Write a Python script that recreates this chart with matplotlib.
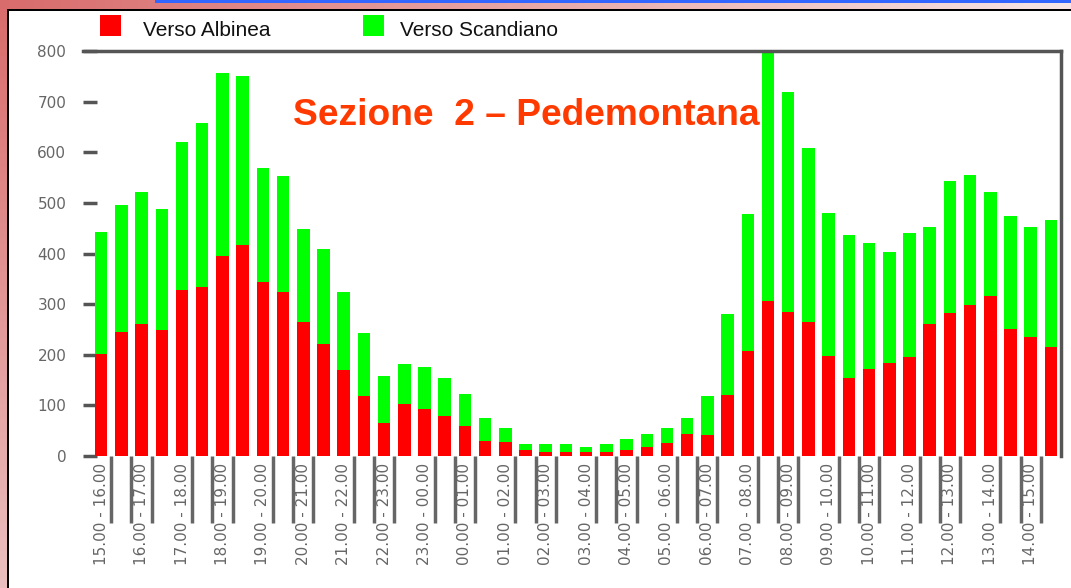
import numpy as np
import matplotlib
matplotlib.use("Agg")
import matplotlib.pyplot as plt
from matplotlib.patches import Rectangle
import matplotlib.transforms as mtransforms

# dati: passaggi per mezz'ora, dalle 15.00 alle 14.30 del giorno dopo
albinea = [201, 244, 260, 249, 327, 333, 396, 417, 343, 323, 264, 222, 170, 119, 66, 103,
           93, 79, 59, 30, 28, 12, 8, 8, 8, 8, 12, 18, 26, 44, 42, 121,
           207, 307, 285, 264, 197, 154, 171, 184, 195, 261, 282, 299, 317, 251, 235, 215]
scandiano = [242, 252, 262, 239, 293, 324, 360, 333, 226, 230, 185, 187, 153, 123, 93, 78,
             82, 75, 63, 45, 27, 12, 16, 16, 10, 16, 21, 25, 29, 31, 76, 159,
             271, 493, 435, 345, 283, 283, 249, 218, 246, 192, 261, 257, 205, 223, 218, 252]
ore = [15, 16, 17, 18, 19, 20, 21, 22, 23, 0, 1, 2, 3, 4, 5, 6, 7, 8, 9, 10, 11, 12, 13, 14]
etichette_x = ["%02d.00 - %02d.00" % (h, (h + 1) % 24) for h in ore]
valori_y = [0, 100, 200, 300, 400, 500, 600, 700, 800]
serie = ["Verso Albinea", "Verso Scandiano"]
colori = ["#ff0000", "#00ff00"]

W, H = 1071, 588
fig = plt.figure(figsize=(W / 100, H / 100), dpi=100, facecolor="white")

# cornice esterna (striscia rosata a sinistra e in alto)
sfondo = np.ones((H, W, 3))
t = np.linspace(0, 1, H)[:, None]
sfondo[:, :7, 0] = 0.85 + 0.07 * t
sfondo[:, :7, 1] = 0.42 + 0.33 * t
sfondo[:, :7, 2] = 0.42 + 0.33 * t
s = np.linspace(0, 1, W)[None, :]
sfondo[:9, :, 0] = 0.85 + 0.12 * s
sfondo[:9, :, 1] = 0.42 + 0.48 * s
sfondo[:9, :, 2] = 0.42 + 0.48 * s
sfondo[:3, 155:, :] = [0.2, 0.4, 1.0]
sfondo[9:11, 7:, :] = 0.0
sfondo[9:, 7:9, :] = 0.0
fig.figimage(sfondo, xo=0, yo=0, origin="upper", zorder=-5)

ax = fig.add_axes([83 / W, 1 - 456 / H, (1061 - 83) / W, (456 - 51) / H])
ax.set_zorder(3)
ax.set_facecolor("white")

x = np.arange(len(albinea))
ax.bar(x, albinea, width=0.62, color=colori[0], zorder=2)
ax.bar(x, scandiano, width=0.62, bottom=albinea, color=colori[1], zorder=2)

ax.set_xlim(-0.9, len(albinea) - 0.5)
ax.set_ylim(0, 800)

ax.set_yticks(valori_y)
ax.set_yticklabels([str(v) for v in valori_y], fontsize=11, color="#666666")
ax.tick_params(axis="y", direction="in", length=10, width=2.5, color="#555555", pad=12)

ax.set_xticks(x[::2])
ax.set_xticklabels(etichette_x, rotation=90, fontsize=11, color="#666666")
ax.tick_params(axis="x", length=0, pad=5)

for lato in ["left", "bottom"]:
    ax.spines[lato].set_visible(False)
for lato in ["top", "right"]:
    ax.spines[lato].set_color("#555555")
    ax.spines[lato].set_linewidth(2.5)

# separatori sotto l'asse x
trasf = mtransforms.blended_transform_factory(ax.transData, ax.transAxes)
separatori = sorted(set(list(np.arange(0.5, len(albinea), 2)) + list(np.arange(1.5, len(albinea), 4))))
for xs in separatori:
    ax.plot([xs, xs], [0, -0.165], transform=trasf, color="#666666", lw=2.5,
            clip_on=False, solid_capstyle="butt")

ax.text(0.453, 0.84, "Sezione  2 \u2013 Pedemontana", transform=ax.transAxes,
        ha="center", va="center", fontsize=26.7, fontweight="bold",
        color="#ff3a00", family="Liberation Sans", zorder=3)

# legenda in alto
pos_leg = [(100, 143), (363, 400)]
for nome, col, (xq, xt) in zip(serie, colori, pos_leg):
    fig.add_artist(Rectangle((xq / W, 1 - 36 / H), 21 / W, 21 / H, facecolor=col,
                             edgecolor="none", transform=fig.transFigure, zorder=4))
    fig.text(xt / W, 1 - 30 / H, nome, fontsize=15, family="Liberation Sans",
             ha="left", va="center", color="#111111", zorder=4)

fig.savefig("out.png", dpi=100, facecolor="white")
